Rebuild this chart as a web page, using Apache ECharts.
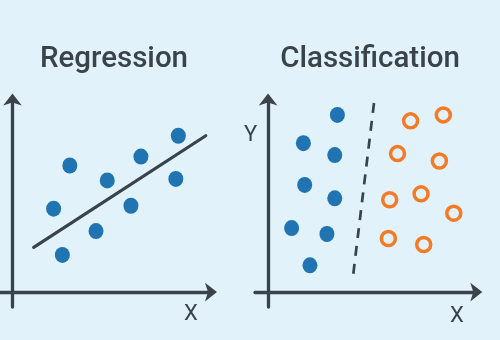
<!DOCTYPE html>
<html>
<head>
<meta charset="utf-8">
<script src="https://cdn.jsdelivr.net/npm/echarts@6/dist/echarts.min.js"></script>
<style>
html,body{margin:0;padding:0;background:#e1f2fb;}
#chart{width:500px;height:340px;}
</style>
</head>
<body>
<div id="chart"></div>
<script>
// Panel titles and axis labels
const panelTitles = ['Regression', 'Classification'];
const axisLabelX = 'X';
const axisLabelY = 'Y';

// Regression panel: scattered points and fitted line
const regX = [4.6, 3.3, 4.0, 6.7, 7.6, 9.5, 10.3, 13.3, 13.1];
const regY = [8.5, 5.6, 2.5, 4.1, 7.5, 5.8, 9.1, 10.5, 7.6];
const regLineX = [1.7, 15.5];
const regLineY = [3.0, 10.5];

// Classification panel: class A (filled), class B (hollow), boundary
const classAX = [5.3, 2.7, 5.1, 2.8, 5.1, 1.8, 4.5, 3.2];
const classAY = [11.9, 10.0, 9.2, 7.2, 6.3, 4.3, 3.9, 1.8];
const classBX = [10.9, 13.4, 9.9, 13.1, 9.3, 11.7, 14.2, 9.2, 11.9];
const classBY = [11.5, 11.9, 9.3, 8.8, 6.2, 6.6, 5.3, 3.6, 3.2];
const boundaryX = [8.1, 6.5];
const boundaryY = [12.7, 1.1];

const zip = (xs, ys) => xs.map((x, i) => [x, ys[i]]);

const dark = '#3a424a';
const blue = '#1f74b1';
const orange = '#f47a25';

const axisLineStyle = {
  show: true,
  onZero: true,
  symbol: ['none', 'arrow'],
  symbolSize: [14, 12],
  symbolOffset: [0, 5],
  lineStyle: { color: dark, width: 3.3 }
};
function valAxis(gridIndex, min, max) {
  return {
    type: 'value', gridIndex, min, max,
    axisLine: axisLineStyle,
    axisTick: { show: false },
    axisLabel: { show: false },
    splitLine: { show: false }
  };
}

const titleStyle = { fontFamily: 'Roboto', fontWeight: 500, fontSize: 29.5, color: dark };

const chart = echarts.init(document.getElementById('chart'));
chart.setOption({
  backgroundColor: '#e1f2fb',
  animation: false,
  title: [
    { text: panelTitles[0], left: 114, top: 45, textAlign: 'center', padding: 0, textStyle: titleStyle },
    { text: panelTitles[1], left: 370, top: 45, textAlign: 'center', padding: 0, textStyle: titleStyle }
  ],
  graphic: [
    { type: 'text', left: 184, top: 303, style: { text: axisLabelX, font: '22px Roboto', fill: dark } },
    { type: 'text', left: 450, top: 305, style: { text: axisLabelX, font: '22px Roboto', fill: dark } },
    { type: 'text', left: 244, top: 124, style: { text: axisLabelY, font: '22px Roboto', fill: dark } }
  ],
  grid: [
    { left: 0, width: 212, top: 98.5, bottom: 33 },
    { left: 255, width: 222.3, top: 98.5, bottom: 33 }
  ],
  xAxis: [valAxis(0, -1, 16), valAxis(1, -1, 16)],
  yAxis: [valAxis(0, -1, 13), valAxis(1, -1, 13)],
  series: [
    { type: 'line', xAxisIndex: 0, yAxisIndex: 0, data: zip(regLineX, regLineY),
      symbol: 'none', lineStyle: { color: dark, width: 3.2, cap: 'round' } },
    { type: 'scatter', xAxisIndex: 0, yAxisIndex: 0, data: zip(regX, regY),
      symbolSize: [15, 16], itemStyle: { color: blue, opacity: 1 } },
    { type: 'line', xAxisIndex: 1, yAxisIndex: 1, data: zip(boundaryX, boundaryY),
      symbol: 'none', lineStyle: { color: dark, width: 2.7, type: [10, 8] } },
    { type: 'scatter', xAxisIndex: 1, yAxisIndex: 1, data: zip(classAX, classAY),
      symbolSize: [15, 16], itemStyle: { color: blue, opacity: 1 } },
    { type: 'scatter', xAxisIndex: 1, yAxisIndex: 1, data: zip(classBX, classBY),
      symbol: 'circle', symbolSize: 14,
      itemStyle: { color: 'transparent', borderColor: orange, borderWidth: 3.5, opacity: 1 } }
  ]
});
</script>
</body>
</html>
